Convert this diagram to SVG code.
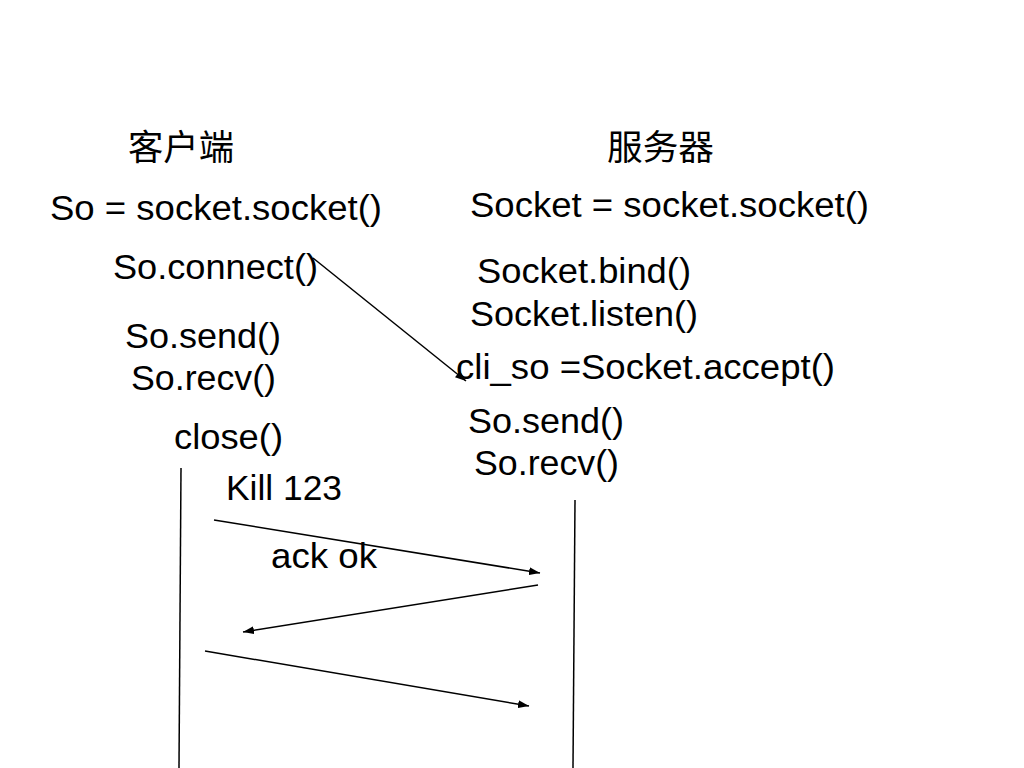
<svg xmlns="http://www.w3.org/2000/svg" width="1024" height="768" viewBox="0 0 1024 768">
<style>
.t{font-family:"Liberation Sans",Arial,"Noto Sans CJK SC",sans-serif;font-size:35px;fill:#000;}
.cjk{font-family:"Noto Sans CJK SC","Liberation Sans",sans-serif;font-size:35px;fill:#000;}
.c{stroke:#000;stroke-width:1.5;fill:none;}
</style>
<defs>
<marker id="ah" markerUnits="userSpaceOnUse" markerWidth="11" markerHeight="8" refX="11" refY="4" orient="auto">
<path d="M0,0 L11,4 L0,8 z" fill="#000"/>
</marker>
</defs>
<rect width="1024" height="768" fill="#fff"/>
<g id="client">
<text class="cjk" x="128" y="160" textLength="106" lengthAdjust="spacingAndGlyphs">客户端</text>
<text class="t" x="50" y="220" textLength="332" lengthAdjust="spacingAndGlyphs">So = socket.socket()</text>
<text class="t" x="113" y="279" textLength="205" lengthAdjust="spacingAndGlyphs">So.connect()</text>
<text class="t" x="125" y="348" textLength="156" lengthAdjust="spacingAndGlyphs">So.send()</text>
<text class="t" x="131" y="390" textLength="145" lengthAdjust="spacingAndGlyphs">So.recv()</text>
<text class="t" x="174" y="449" textLength="109" lengthAdjust="spacingAndGlyphs">close()</text>
</g>
<g id="server">
<text class="cjk" x="607" y="160" textLength="107" lengthAdjust="spacingAndGlyphs">服务器</text>
<text class="t" x="470" y="217" textLength="399" lengthAdjust="spacingAndGlyphs">Socket = socket.socket()</text>
<text class="t" x="477" y="283" textLength="214" lengthAdjust="spacingAndGlyphs">Socket.bind()</text>
<text class="t" x="470" y="326" textLength="228" lengthAdjust="spacingAndGlyphs">Socket.listen()</text>
<text class="t" x="456" y="379" textLength="379" lengthAdjust="spacingAndGlyphs">cli_so =Socket.accept()</text>
<text class="t" x="468" y="433" textLength="156" lengthAdjust="spacingAndGlyphs">So.send()</text>
<text class="t" x="474" y="475" textLength="145" lengthAdjust="spacingAndGlyphs">So.recv()</text>
</g>
<g id="labels">
<text class="t" x="226" y="500" textLength="116" lengthAdjust="spacingAndGlyphs">Kill 123</text>
<text class="t" x="271" y="568" textLength="106" lengthAdjust="spacingAndGlyphs">ack ok</text>
</g>
<g id="connectors">
<line class="c" x1="181" y1="468" x2="179" y2="768"/>
<line class="c" x1="575" y1="500" x2="573" y2="768"/>
<line class="c" x1="313" y1="258" x2="466" y2="381" marker-end="url(#ah)"/>
<line class="c" x1="214" y1="520" x2="540" y2="573" marker-end="url(#ah)"/>
<line class="c" x1="538" y1="585" x2="243" y2="632" marker-end="url(#ah)"/>
<line class="c" x1="205" y1="651" x2="529" y2="706" marker-end="url(#ah)"/>
</g>
</svg>
